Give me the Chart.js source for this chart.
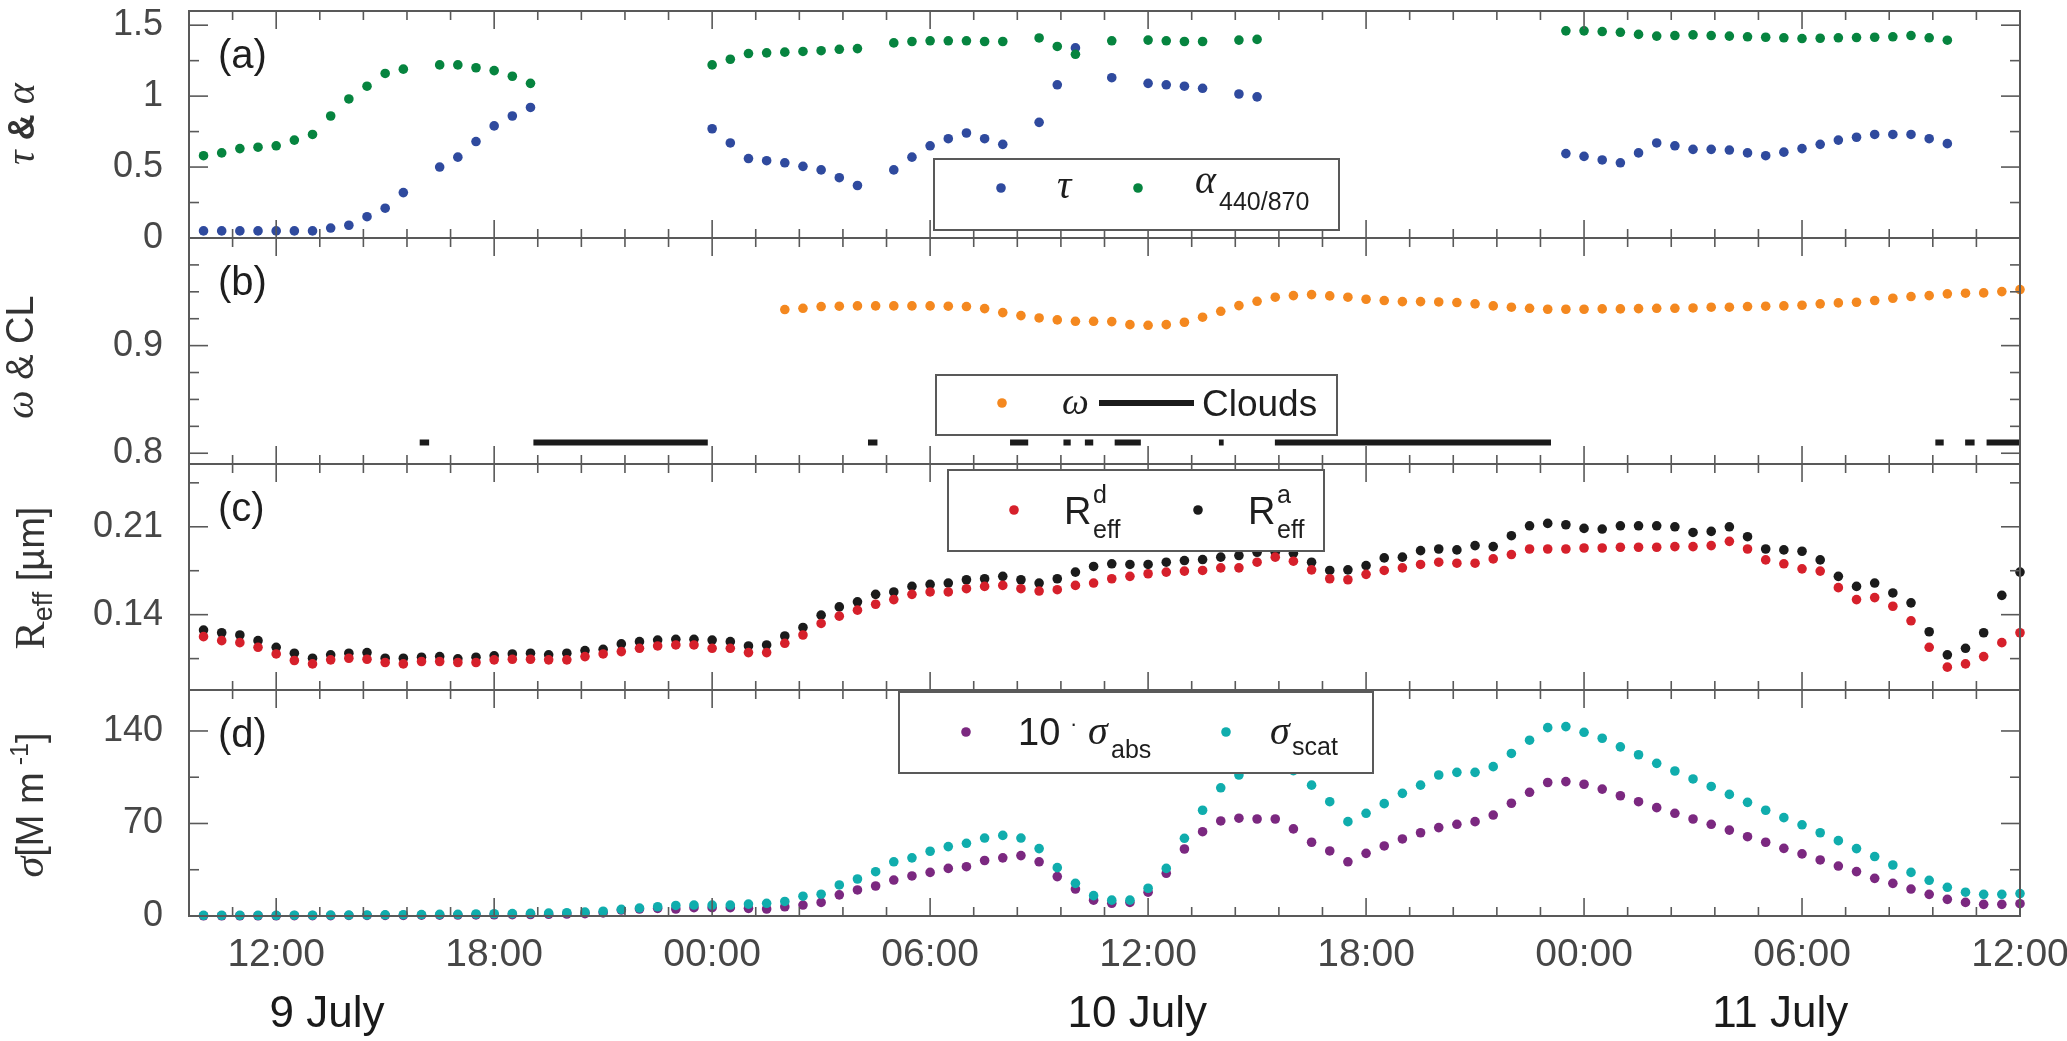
<!DOCTYPE html>
<html>
<head>
<meta charset="utf-8">
<script src="https://cdn.jsdelivr.net/npm/chart.js@4.4.1/dist/chart.umd.min.js"></script>
<style>
  html, body { margin: 0; padding: 0; background: #fff; }
  #wrap { position: relative; width: 2067px; height: 1041px; }
  #wrap canvas { position: absolute; left: 0; top: 0; }
</style>
</head>
<body>
<div id="wrap">
  <canvas id="panelA" width="2067" height="1041"></canvas>
  <canvas id="panelB" width="2067" height="1041"></canvas>
  <canvas id="panelC" width="2067" height="1041"></canvas>
  <canvas id="panelD" width="2067" height="1041"></canvas>
</div>
<script>
// time axis: hours since 9 July 00:00, samples every 30 min from 9 July 10:00
const startHour = 10;
const stepHour = 0.5;
const X_MIN = 9.6;
const X_MAX = 60;
const xMajorHours = [12, 18, 24, 30, 36, 42, 48, 54, 60];
const xMajorLabels = ["12:00", "18:00", "00:00", "06:00", "12:00", "18:00", "00:00", "06:00", "12:00"];
const dateHours = [13.4, 35.7, 53.4];
const dateLabels = ["9 July", "10 July", "11 July"];

// (a) optical depth and Angstrom exponent
const tau = [
  0.05, 0.05, 0.05, 0.05, 0.05, 0.05, 0.05, 0.07, 0.09, 0.15,
  0.21, 0.32, null, 0.50, 0.57, 0.68, 0.79, 0.86, 0.92, null,
  null, null, null, null, null, null, null, null, 0.77, 0.67,
  0.56, 0.545, 0.53, 0.505, 0.48, 0.425, 0.37, null, 0.48, 0.57,
  0.65, 0.70, 0.74, 0.70, 0.66, null, 0.815, 1.08, 1.34, null,
  1.13, null, 1.09, 1.08, 1.07, 1.055, null, 1.015, 0.995, null,
  null, null, null, null, null, null, null, null, null, null,
  null, null, null, null, null, 0.595, 0.575, 0.55, 0.53, 0.60,
  0.67, 0.65, 0.625, 0.625, 0.62, 0.60, 0.58, 0.605, 0.63, 0.66,
  0.69, 0.71, 0.73, 0.73, 0.73, 0.70, 0.665
];
const alpha = [
  0.58, 0.60, 0.63, 0.64, 0.65, 0.69, 0.73, 0.86, 0.98, 1.07,
  1.16, 1.19, null, 1.22, 1.22, 1.20, 1.18, 1.14, 1.09, null,
  null, null, null, null, null, null, null, null, 1.22, 1.26,
  1.30, 1.305, 1.31, 1.315, 1.32, 1.33, 1.335, null, 1.375, 1.385,
  1.39, 1.39, 1.39, 1.385, 1.385, null, 1.41, 1.35, 1.295, null,
  1.39, null, 1.395, 1.39, 1.385, 1.385, null, 1.395, 1.40, null,
  null, null, null, null, null, null, null, null, null, null,
  null, null, null, null, null, 1.46, 1.46, 1.455, 1.45, 1.435,
  1.423, 1.427, 1.432, 1.427, 1.423, 1.418, 1.415, 1.411, 1.406, 1.408,
  1.411, 1.413, 1.415, 1.418, 1.427, 1.411, 1.394
];

// (b) single scattering albedo (starts at sample 32) and cloud periods
const omegaFirst = 32;
const omega = [
  0.9335, 0.9347, 0.9363, 0.9366, 0.9369, 0.9369, 0.9369, 0.9369, 0.9369, 0.9366,
  0.9363, 0.9344, 0.9307, 0.9279, 0.9257, 0.9239, 0.9226, 0.9226, 0.9223, 0.9195,
  0.9189, 0.9195, 0.9217, 0.9264, 0.9319, 0.9372, 0.9412, 0.945, 0.9465, 0.9474,
  0.9462, 0.945, 0.9431, 0.9419, 0.9409, 0.9409, 0.9406, 0.94, 0.9388, 0.9369,
  0.9357, 0.9347, 0.9338, 0.9338, 0.9338, 0.9341, 0.9341, 0.9344, 0.9347, 0.9347,
  0.935, 0.9357, 0.9357, 0.9363, 0.9366, 0.9369, 0.9375, 0.9388, 0.9397, 0.9403,
  0.9419, 0.944, 0.9456, 0.9465, 0.9481, 0.9487, 0.949, 0.9502, 0.9521
];
const cloudStart = [15.95, 19.08, 28.29, 32.2, 33.67, 34.26, 35.08, 37.95, 39.49, 57.67, 58.49, 59.08];
const cloudEnd   = [16.21, 23.88, 28.55, 32.7, 33.87, 34.49, 35.8, 38.08, 47.09, 57.9, 58.75, 60.0];
const cloudLevel = 0.81;

// (c) effective radius, dry (d) and ambient (a)
const reffDry = [
  0.1225, 0.1193, 0.1177, 0.114, 0.1087, 0.1035, 0.1008, 0.104, 0.1053, 0.1045,
  0.1019, 0.1008, 0.1027, 0.1027, 0.1019, 0.1019, 0.104, 0.1045, 0.1045, 0.104,
  0.104, 0.1066, 0.1087, 0.1106, 0.1132, 0.1151, 0.1159, 0.1159, 0.1132, 0.1132,
  0.1098, 0.1098, 0.1172, 0.1238, 0.133, 0.1388, 0.1436, 0.1483, 0.152, 0.1562,
  0.1581, 0.1581, 0.1607, 0.1625, 0.1633, 0.1607, 0.1588, 0.1599, 0.1633, 0.1652,
  0.1686, 0.1705, 0.1726, 0.1739, 0.1747, 0.1752, 0.1773, 0.1773, 0.1818, 0.1858,
  0.1826, 0.1757, 0.1686, 0.1678, 0.1721, 0.1752, 0.1773, 0.18, 0.1818, 0.181,
  0.181, 0.1844, 0.1879, 0.1923, 0.1923, 0.1923, 0.1931, 0.1931, 0.1937, 0.1937,
  0.1937, 0.1942, 0.1942, 0.195, 0.1984, 0.1923, 0.1836, 0.1805, 0.1765, 0.1747,
  0.1615, 0.152, 0.1536, 0.1467, 0.1351, 0.114, 0.0982, 0.1008, 0.1066, 0.1177,
  0.1256
];
const reffAmb = [
  0.1277, 0.1256, 0.1238, 0.1193, 0.114, 0.1093, 0.1053, 0.108, 0.1093, 0.1098,
  0.1053, 0.1053, 0.1061, 0.1066, 0.1048, 0.1061, 0.1072, 0.1087, 0.1093, 0.108,
  0.1093, 0.1114, 0.1124, 0.1167, 0.1185, 0.1198, 0.1204, 0.1204, 0.1198, 0.1185,
  0.1151, 0.1159, 0.123, 0.1298, 0.1396, 0.1462, 0.1502, 0.1562, 0.1581, 0.1625,
  0.1641, 0.1652, 0.1678, 0.1686, 0.1705, 0.1678, 0.1652, 0.1686, 0.1739, 0.1784,
  0.1805, 0.18, 0.18, 0.1818, 0.1831, 0.1839, 0.1858, 0.1871, 0.1897, 0.1897,
  0.1889, 0.1818, 0.1752, 0.1757, 0.1791, 0.1852, 0.1858, 0.191, 0.1923, 0.1916,
  0.195, 0.1942, 0.2029, 0.2108, 0.2127, 0.2116, 0.2087, 0.2082, 0.2108, 0.2108,
  0.2108, 0.21, 0.2055, 0.2063, 0.21, 0.2021, 0.1923, 0.1916, 0.1905, 0.1836,
  0.1705, 0.1625, 0.1652, 0.1573, 0.1494, 0.1264, 0.108, 0.1132, 0.1256, 0.1554,
  0.1739
];

// (d) 10 x absorption and scattering coefficients [Mm-1]
const sigmaAbs10 = [
  0.2, 0.2, 0.2, 0.2, 0.2, 0.3, 0.3, 0.3, 0.4, 0.4,
  0.5, 0.5, 0.6, 0.6, 0.7, 0.8, 0.9, 1.0, 1.1, 1.3,
  1.5, 1.8, 2.4, 4.5, 5.3, 5.8, 5.3, 6.3, 6.3, 6.3,
  5.8, 5.3, 7.0, 8.3, 10.3, 16, 19.7, 22.7, 27.2, 30.3,
  33, 36, 37.3, 42, 44, 45.7, 41, 29.8, 20.4, 12,
  9.6, 10.3, 18, 32.3, 50.7, 63.8, 71.9, 74, 73.4, 73.4,
  65.9, 55.8, 49.2, 41, 47.4, 53, 58.3, 63, 66.9, 69.4,
  71.4, 76.4, 85.3, 93.6, 101, 101.7, 99.7, 96, 91, 86.5,
  82, 77.7, 73.4, 69.4, 65, 60, 55.8, 51.2, 47, 42.4,
  37.8, 33.6, 28.5, 24.7, 20.4, 16.4, 12.6, 10.3, 8.8, 8.8,
  9.3
];
const sigmaScat = [
  0.5, 0.5, 0.5, 0.5, 0.5, 0.6, 0.6, 0.7, 0.7, 0.8,
  0.9, 1.0, 1.1, 1.2, 1.3, 1.5, 1.7, 1.8, 2.0, 2.2,
  2.5, 2.9, 3.6, 5.0, 6.0, 7.0, 8.0, 8.3, 8.3, 8.3,
  9.0, 9.6, 11, 15, 16.5, 23.5, 28, 33.5, 41, 44,
  49, 52.5, 55, 59, 61, 59, 51, 36.6, 24.7, 15.4,
  12, 12, 21, 36, 58.8, 80, 97, 106.7, 113, 114,
  110, 99, 86.5, 71.4, 77.7, 85, 92.8, 99, 106.7, 108.7,
  108.7, 113, 123, 133, 142.5, 143.3, 139, 134.5, 128, 122,
  115.5, 109.7, 103.7, 98, 92, 86, 80, 74.4, 69, 63,
  57, 51, 45, 38.6, 33, 27, 21.7, 18, 16.4, 16.4,
  17
];

// y tick positions and labelled values per panel
const yTicksA = [0, 0.25, 0.5, 0.75, 1, 1.25, 1.5];
const yLabelsA = [0, 0.5, 1, 1.5];
const yTicksB = [0.8, 0.825, 0.85, 0.875, 0.9, 0.925, 0.95, 0.975];
const yLabelsB = [0.8, 0.9];
const yTicksC = [0.105, 0.14, 0.175, 0.21, 0.245];
const yLabelsC = [0.14, 0.21];
const yTicksD = [0, 35, 70, 105, 140];
const yLabelsD = [0, 70, 140];

const SANS = "'Liberation Sans', Arial, Helvetica, sans-serif";
const SERIF = "'Liberation Serif', 'Times New Roman', serif";
const AXIS = "#595959";
const TICK_TEXT = "#474747";
const INK = "#1e1e1e";
const DOT = 4.8;

Chart.defaults.font.family = SANS;

const W = 2067, H = 1041;
const PLOT_LEFT = 189, PLOT_RIGHT = 2020;
const panelTop = [11, 238, 464, 690];
const panelBottom = [238, 464, 690, 916];

const xMinorStep = 1.2;
const xTickValues = [];
for (let k = 0; X_MIN + k * xMinorStep <= X_MAX + 1e-6; k++) {
  xTickValues.push(Math.round((X_MIN + k * xMinorStep) * 100) / 100);
}

const near = (a, b) => Math.abs(a - b) < 1e-6;
const isMajorX = v => xMajorHours.some(h => near(h, v));

function toPoints(values, first = 0) {
  return values.map((v, i) => ({ x: startHour + (first + i) * stepHour, y: v }));
}

function cloudPoints() {
  const pts = [];
  cloudStart.forEach((s, k) => {
    pts.push({ x: s, y: cloudLevel }, { x: cloudEnd[k], y: cloudLevel }, { x: cloudEnd[k], y: null });
  });
  return pts;
}

function dots(label, data, color) {
  return {
    label,
    data,
    backgroundColor: color,
    borderWidth: 0,
    pointRadius: DOT,
    pointHoverRadius: DOT,
    showLine: false,
    clip: false
  };
}

function line(ctx, x1, y1, x2, y2) {
  ctx.beginPath();
  ctx.moveTo(x1, y1);
  ctx.lineTo(x2, y2);
  ctx.stroke();
}

function text(ctx, s, x, y, font, color = INK, align = "left") {
  ctx.font = font;
  ctx.fillStyle = color;
  ctx.textAlign = align;
  ctx.textBaseline = "alphabetic";
  ctx.fillText(s, x, y);
}

function dot(ctx, x, y, color) {
  ctx.fillStyle = color;
  ctx.beginPath();
  ctx.arc(x, y, DOT, 0, Math.PI * 2);
  ctx.fill();
}

function yTitle(ctx, cx, cy, parts) {
  ctx.save();
  ctx.translate(cx, cy);
  ctx.rotate(-Math.PI / 2);
  ctx.textBaseline = "alphabetic";
  ctx.textAlign = "left";
  let total = 0;
  parts.forEach(p => { ctx.font = p.font; p.w = ctx.measureText(p.t).width; total += p.w; });
  let x = -total / 2;
  parts.forEach(p => {
    ctx.font = p.font;
    ctx.fillStyle = p.color || "#333";
    ctx.fillText(p.t, x, p.dy || 0);
    x += p.w;
  });
  ctx.restore();
}

function legendBox(ctx, x1, y1, x2, y2) {
  ctx.fillStyle = "#fff";
  ctx.fillRect(x1, y1, x2 - x1, y2 - y1);
  ctx.strokeStyle = AXIS;
  ctx.lineWidth = 2;
  ctx.strokeRect(x1, y1, x2 - x1, y2 - y1);
}

// frame, inward ticks, panel letter, y title and legend for one panel
function panelPlugin(id, yTicks, yLabels, letter, drawExtras) {
  return {
    id,
    afterDraw(chart) {
      const { ctx, chartArea: a, scales: { x, y } } = chart;
      ctx.save();
      ctx.strokeStyle = AXIS;
      ctx.lineWidth = 1.6;
      xTickValues.forEach(v => {
        const px = x.getPixelForValue(v);
        const len = isMajorX(v) ? 18 : 9;
        line(ctx, px, a.top, px, a.top + len);
        line(ctx, px, a.bottom, px, a.bottom - len);
      });
      yTicks.forEach(v => {
        const py = y.getPixelForValue(v);
        const len = yLabels.some(l => near(l, v)) ? 19 : 10;
        line(ctx, a.left, py, a.left + len, py);
        line(ctx, a.right, py, a.right - len, py);
      });
      ctx.lineWidth = 2;
      ctx.strokeRect(a.left, a.top, a.right - a.left, a.bottom - a.top);
      text(ctx, letter, 218, a.top + 57, "40px " + SANS, INK);
      drawExtras(ctx, chart);
      ctx.restore();
    }
  };
}

function baseOptions(k, yMin, yMax, yTicks, yLabels, fmt) {
  const last = k === 3;
  return {
    responsive: false,
    animation: false,
    devicePixelRatio: 1,
    events: [],
    layout: {
      padding: {
        left: 0,
        right: W - PLOT_RIGHT,
        top: panelTop[k],
        bottom: last ? 0 : H - panelBottom[k]
      }
    },
    plugins: { legend: { display: false }, tooltip: { enabled: false } },
    scales: {
      x: last ? {
        type: "linear",
        min: X_MIN,
        max: X_MAX,
        afterBuildTicks: s => { s.ticks = xTickValues.map(v => ({ value: v })); },
        afterFit: s => { s.height = H - panelBottom[3]; s.paddingLeft = 0; s.paddingRight = 0; },
        grid: { display: false, drawTicks: false },
        border: { display: false },
        ticks: {
          autoSkip: false,
          maxRotation: 0,
          minRotation: 0,
          padding: 16,
          color: TICK_TEXT,
          font: { size: 39 },
          callback: v => {
            const i = xMajorHours.findIndex(h => near(h, v));
            return i >= 0 ? xMajorLabels[i] : "";
          }
        }
      } : { type: "linear", min: X_MIN, max: X_MAX, display: false },
      y: {
        type: "linear",
        min: yMin,
        max: yMax,
        afterBuildTicks: s => { s.ticks = yTicks.map(v => ({ value: v })); },
        afterFit: s => { s.width = PLOT_LEFT; s.paddingTop = 0; s.paddingBottom = 0; },
        grid: { display: false, drawTicks: false },
        border: { display: false },
        ticks: {
          padding: 26,
          color: TICK_TEXT,
          font: { size: 36 },
          callback: v => (yLabels.some(l => near(l, v)) ? fmt(v) : "")
        }
      }
    }
  };
}

const COLORS = {
  tau: "#2f4a9e",
  alpha: "#06843f",
  omega: "#f4881f",
  dry: "#d6202b",
  amb: "#1b1b1b",
  abs: "#7b2880",
  scat: "#10adad"
};

// (a)
new Chart(document.getElementById("panelA"), {
  type: "scatter",
  data: {
    datasets: [
      dots("alpha", toPoints(alpha), COLORS.alpha),
      dots("tau", toPoints(tau), COLORS.tau)
    ]
  },
  options: baseOptions(0, 0, 1.6, yTicksA, yLabelsA, v => String(v)),
  plugins: [panelPlugin("panelA", yTicksA, yLabelsA, "(a)", ctx => {
    yTitle(ctx, 34, 124, [
      { t: "τ", font: "italic 40px " + SERIF },
      { t: " & ", font: "bold 36px " + SANS },
      { t: "α", font: "italic 40px " + SERIF }
    ]);
    legendBox(ctx, 934, 159, 1339, 230);
    dot(ctx, 1001, 188, COLORS.tau);
    text(ctx, "τ", 1057, 198, "italic 40px " + SERIF);
    dot(ctx, 1138, 188, COLORS.alpha);
    text(ctx, "α", 1195, 193, "italic 40px " + SERIF);
    text(ctx, "440/870", 1219, 210, "25px " + SANS);
  })]
});

// (b)
new Chart(document.getElementById("panelB"), {
  type: "scatter",
  data: {
    datasets: [
      dots("omega", toPoints(omega, omegaFirst), COLORS.omega),
      {
        type: "line",
        label: "Clouds",
        data: cloudPoints(),
        borderColor: "#1b1b1b",
        borderWidth: 6,
        borderCapStyle: "butt",
        pointRadius: 0,
        spanGaps: false,
        showLine: true,
        fill: false
      }
    ]
  },
  options: baseOptions(1, 0.79, 1.0, yTicksB, yLabelsB, v => String(v)),
  plugins: [panelPlugin("panelB", yTicksB, yLabelsB, "(b)", ctx => {
    yTitle(ctx, 33, 357, [
      { t: "ω", font: "italic 40px " + SERIF },
      { t: " & CL", font: "38px " + SANS }
    ]);
    legendBox(ctx, 936, 375, 1337, 435);
    dot(ctx, 1002, 403, COLORS.omega);
    text(ctx, "ω", 1062, 414, "italic 38px " + SERIF);
    ctx.strokeStyle = "#1b1b1b";
    ctx.lineWidth = 6;
    line(ctx, 1099, 403, 1194, 403);
    text(ctx, "Clouds", 1202, 416, "37px " + SANS);
  })]
});

// (c)
new Chart(document.getElementById("panelC"), {
  type: "scatter",
  data: {
    datasets: [
      dots("Rd", toPoints(reffDry), COLORS.dry),
      dots("Ra", toPoints(reffAmb), COLORS.amb)
    ]
  },
  options: baseOptions(2, 0.08, 0.26, yTicksC, yLabelsC, v => v.toFixed(2)),
  plugins: [panelPlugin("panelC", yTicksC, yLabelsC, "(c)", ctx => {
    yTitle(ctx, 44, 578, [
      { t: "R", font: "42px " + SERIF },
      { t: "eff", font: "27px " + SANS, dy: 8 },
      { t: " [µm]", font: "38px " + SANS }
    ]);
    legendBox(ctx, 948, 470, 1324, 551);
    dot(ctx, 1014, 510, COLORS.dry);
    text(ctx, "R", 1064, 524, "38px " + SANS);
    text(ctx, "d", 1093, 503, "25px " + SANS);
    text(ctx, "eff", 1093, 538, "25px " + SANS);
    dot(ctx, 1198, 510, COLORS.amb);
    text(ctx, "R", 1248, 524, "38px " + SANS);
    text(ctx, "a", 1277, 503, "25px " + SANS);
    text(ctx, "eff", 1277, 538, "25px " + SANS);
  })]
});

// (d)
new Chart(document.getElementById("panelD"), {
  type: "scatter",
  data: {
    datasets: [
      dots("scat", toPoints(sigmaScat), COLORS.scat),
      dots("abs", toPoints(sigmaAbs10), COLORS.abs)
    ]
  },
  options: baseOptions(3, 0, 171, yTicksD, yLabelsD, v => String(v)),
  plugins: [panelPlugin("panelD", yTicksD, yLabelsD, "(d)", (ctx, chart) => {
    yTitle(ctx, 43, 805, [
      { t: "σ", font: "italic 42px " + SERIF },
      { t: "[M m", font: "38px " + SANS },
      { t: " -1", font: "25px " + SANS, dy: -15 },
      { t: "]", font: "38px " + SANS }
    ]);
    legendBox(ctx, 899, 692, 1373, 773);
    dot(ctx, 966, 732, COLORS.abs);
    text(ctx, "10", 1018, 745, "38px " + SANS);
    text(ctx, "·", 1070, 731, "22px " + SANS);
    text(ctx, "σ", 1088, 744, "italic 40px " + SERIF);
    text(ctx, "abs", 1111, 758, "25px " + SANS);
    dot(ctx, 1226, 732, COLORS.scat);
    text(ctx, "σ", 1270, 744, "italic 40px " + SERIF);
    text(ctx, "scat", 1292, 755, "25px " + SANS);

    const xs = chart.scales.x;
    dateLabels.forEach((s, k) => {
      text(ctx, s, xs.getPixelForValue(dateHours[k]), 1027, "44px " + SANS, "#1a1a1a", "center");
    });
  })]
});
</script>
</body>
</html>
